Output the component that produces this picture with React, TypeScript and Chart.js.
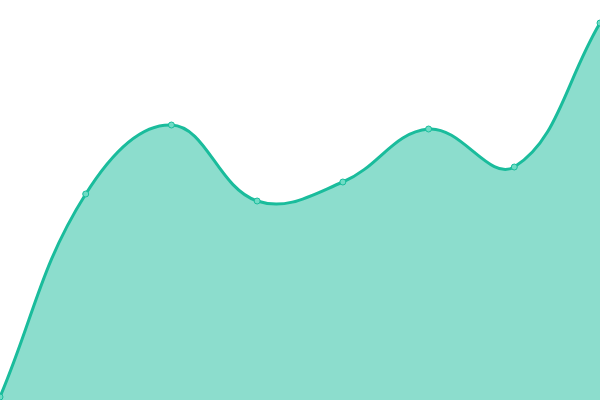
import React, { useEffect, useRef } from "react";
import { Chart, registerables } from "chart.js";

Chart.register(...registerables);

const labels = ["1", "2", "3", "4", "5", "6", "7", "8"];
const values = [0.75, 51.5, 68.75, 49.75, 54.5, 67.75, 58.25, 94.25];

const App: React.FC = () => {
  const canvasRef = useRef<HTMLCanvasElement | null>(null);

  useEffect(() => {
    document.body.style.margin = "0";
    const ctx = canvasRef.current?.getContext("2d");
    if (!ctx) return;

    const chart = new Chart(ctx, {
      type: "line",
      data: {
        labels,
        datasets: [
          {
            data: values,
            borderColor: "#1abc9c",
            backgroundColor: "rgba(26, 188, 156, 0.5)",
            borderWidth: 3,
            fill: true,
            tension: 0.4,
            pointRadius: 3,
            pointBorderWidth: 1,
            pointBackgroundColor: "#6fdcc5",
            pointBorderColor: "#1abc9c",
          },
        ],
      },
      options: {
        animation: false,
        responsive: false,
        maintainAspectRatio: false,
        layout: { padding: 0, autoPadding: false },
        plugins: { legend: { display: false }, tooltip: { enabled: false } },
        scales: {
          x: { display: false },
          y: { display: false, min: 0, max: 100 },
        },
      },
    });

    return () => chart.destroy();
  }, []);

  return (
    <div style={{ width: 600, height: 400, background: "#fff" }}>
      <canvas ref={canvasRef} width={600} height={400}></canvas>
    </div>
  );
};

export default App;
